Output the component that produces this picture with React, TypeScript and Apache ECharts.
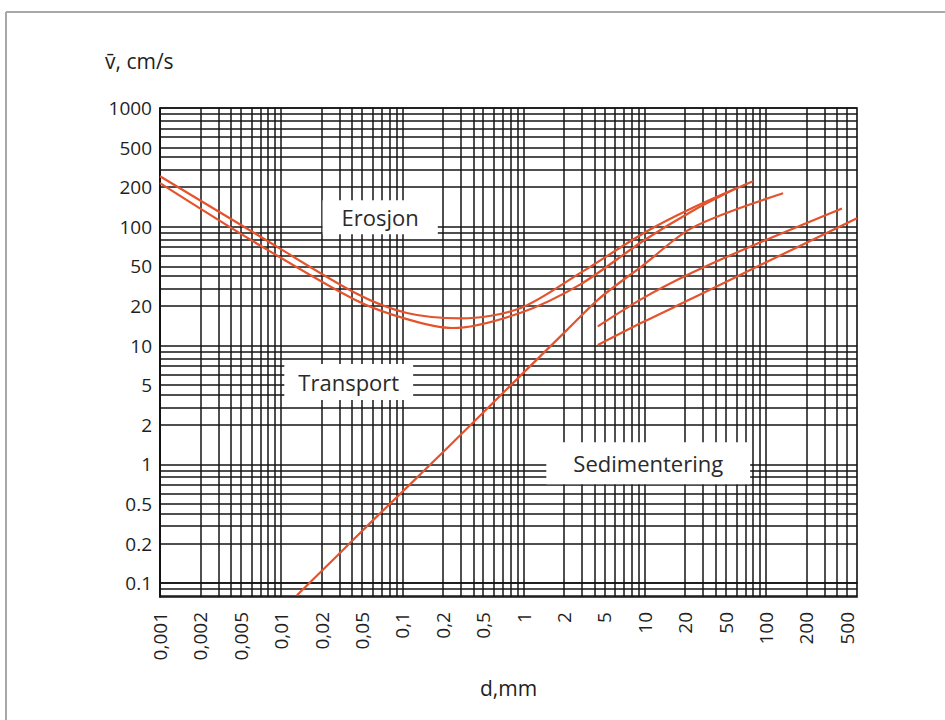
import React, { useEffect, useRef } from "react";
import * as echarts from "echarts";

// Axis labels (equally spaced 1-2-5 scale)
const X_TICK_VALUES = [0.001, 0.002, 0.005, 0.01, 0.02, 0.05, 0.1, 0.2, 0.5, 1, 2, 5, 10, 20, 50, 100, 200, 500];
const X_TICK_LABELS = ["0,001", "0,002", "0,005", "0,01", "0,02", "0,05", "0,1", "0,2", "0,5", "1", "2", "5", "10", "20", "50", "100", "200", "500"];
const Y_TICK_VALUES = [0.1, 0.2, 0.5, 1, 2, 5, 10, 20, 50, 100, 200, 500, 1000];
const Y_TICK_LABELS = ["0.1", "0.2", "0.5", "1", "2", "5", "10", "20", "50", "100", "200", "500", "1000"];
const X_RANGE = [0.001, 595];
const Y_RANGE = [0.0785, 1000];

// Curves: grain size d (mm) and mean velocity v (cm/s)
const erosionUpperD = [0.001, 0.0064, 0.043, 0.108, 0.3, 0.94, 2.9, 9.7, 24, 80];
const erosionUpperV = [258, 89, 27, 17.7, 16.1, 19.2, 43, 89, 140, 229];
const erosionLowerD = [0.001, 0.0064, 0.043, 0.108, 0.25, 0.94, 2.9, 9.7, 24, 60];
const erosionLowerV = [220, 76, 23, 15.9, 13.6, 17.7, 33, 78, 133, 196];
const sedimentD = [0.0131, 0.0283, 0.06, 0.136, 0.436, 0.94, 2.13, 4.5, 9.7, 23.8, 134];
const sedimentV = [0.081, 0.161, 0.34, 0.84, 2.31, 5.86, 13.1, 24, 51, 99, 180];
const coarseUpperD = [4.3, 9.7, 23.8, 90, 448];
const coarseUpperV = [14.0, 24, 43.6, 76, 138];
const coarseLowerD = [4.3, 9.7, 23.8, 90, 595];
const coarseLowerV = [10.1, 15.1, 24, 51, 116];

// Region labels
const regionNames = ["Erosjon", "Transport", "Sedimentering"];
const regionD = [0.0683, 0.037, 10.6];
const regionV = [118, 5.28, 1.02];

// position on the equally spaced 1-2-5 scale
function toIndex(v: number, first: number): number {
  const e = Math.log10(v / first);
  const dec = Math.floor(e + 1e-9);
  const m = v / (first * Math.pow(10, dec));
  let i: number;
  if (m < 2) i = Math.log(m) / Math.log(2);
  else if (m < 5) i = 1 + Math.log(m / 2) / Math.log(2.5);
  else i = 2 + Math.log(m / 5) / Math.log(2);
  return dec * 3 + i;
}
const xi = (d: number) => toIndex(d, X_TICK_VALUES[0]);
const yi = (v: number) => toIndex(v, Y_TICK_VALUES[0]);

function gridValues(first: number, lo: number, hi: number): number[] {
  const out: number[] = [];
  for (let dec = -1; dec <= 7; dec++) {
    for (let k = 1; k <= 9; k++) {
      const v = k * first * Math.pow(10, dec);
      const idx = toIndex(v, first);
      if (idx >= lo - 1e-6 && idx <= hi + 1e-6) out.push(idx);
    }
  }
  return out;
}

const FONT = "'Open Sans', 'Noto Sans', sans-serif";
const CURVE = "#e4532c";
const TEXT = "#1f1f1f";

export default function App() {
  const ref = useRef<HTMLDivElement>(null);
  useEffect(() => {
    if (!ref.current) return;
    const chart = echarts.init(ref.current, undefined, { renderer: "svg" });
    const xMin = xi(X_RANGE[0]);
    const xMax = xi(X_RANGE[1]);
    const yMin = yi(Y_RANGE[0]);
    const yMax = yi(Y_RANGE[1]);
    const toPts = (D: number[], V: number[]) => D.map((d, i) => [xi(d), yi(V[i])]);
    const lineSeries = (name: string, D: number[], V: number[]) => ({
      name,
      type: "line",
      data: toPts(D, V),
      smooth: 0.3,
      symbol: "none",
      showSymbol: false,
      silent: true,
      z: 4,
      lineStyle: { color: CURVE, width: 2.2 },
    });
    const paddings = [
      [6, 19],
      [7, 14],
      [10, 27],
    ];
    chart.setOption({
      animation: false,
      backgroundColor: "#ffffff",
      grid: {
        left: 160,
        top: 108,
        width: 697,
        height: 489,
        show: true,
        borderColor: "#111",
        borderWidth: 1.6,
        backgroundColor: "rgba(0,0,0,0)",
      },
      xAxis: {
        type: "value",
        min: xMin,
        max: xMax,
        axisLine: { show: true, lineStyle: { color: "#111", width: 1.6 } },
        axisTick: { show: false, customValues: gridValues(X_TICK_VALUES[0], xMin, xMax) },
        splitLine: { show: true, lineStyle: { color: "#141414", width: 1.5 } },
        axisLabel: {
          customValues: X_TICK_VALUES.map((v) => xi(v)),
          formatter: (v: number) => X_TICK_LABELS[Math.round(v)],
          rotate: 90,
          margin: 15,
          fontSize: 19,
          color: TEXT,
          fontFamily: FONT,
        },
        name: "d,mm",
        nameLocation: "middle",
        nameGap: 80,
        nameTextStyle: { fontSize: 21, color: TEXT, fontFamily: FONT },
      },
      yAxis: {
        type: "value",
        min: yMin,
        max: yMax,
        axisLine: { show: true, lineStyle: { color: "#111", width: 1.6 } },
        axisTick: { show: false, customValues: gridValues(Y_TICK_VALUES[0], yMin, yMax) },
        splitLine: { show: true, lineStyle: { color: "#141414", width: 1.5 } },
        axisLabel: {
          customValues: Y_TICK_VALUES.map((v) => yi(v)),
          formatter: (v: number) => Y_TICK_LABELS[Math.round(v)],
          margin: 8,
          fontSize: 19,
          color: TEXT,
          fontFamily: FONT,
        },
      },
      series: [
        {
          type: "scatter",
          symbolSize: 1,
          silent: true,
          z: 3,
          itemStyle: { color: "rgba(0,0,0,0)" },
          data: regionNames.map((n, i) => ({
            name: n,
            value: [xi(regionD[i]), yi(regionV[i])],
            label: { padding: paddings[i] },
          })),
          label: {
            show: true,
            position: "inside",
            formatter: "{b}",
            backgroundColor: "#ffffff",
            fontSize: 22,
            color: "#2a2a2a",
            fontFamily: FONT,
            opacity: 1,
          },
        },
        lineSeries("Erosjon øvre", erosionUpperD, erosionUpperV),
        lineSeries("Erosjon nedre", erosionLowerD, erosionLowerV),
        lineSeries("Sedimentering", sedimentD, sedimentV),
        lineSeries("Sedimentering grov øvre", coarseUpperD, coarseUpperV),
        lineSeries("Sedimentering grov nedre", coarseLowerD, coarseLowerV),
      ],
      graphic: [
        {
          type: "line",
          shape: { x1: 6, y1: 12, x2: 945, y2: 12 },
          style: { stroke: "#a8a8a8", lineWidth: 2 },
        },
        {
          type: "line",
          shape: { x1: 6, y1: 12, x2: 6, y2: 720 },
          style: { stroke: "#a8a8a8", lineWidth: 2 },
        },
        {
          type: "text",
          left: 105,
          top: 50,
          style: { text: "v\u0304, cm/s", fontSize: 21, fill: TEXT, fontFamily: FONT },
        },
      ],
    });
    return () => chart.dispose();
  }, []);
  return (
    <div
      ref={ref}
      style={{ position: "fixed", left: 0, top: 0, width: 945, height: 720, background: "#fff" }}
    />
  );
}
